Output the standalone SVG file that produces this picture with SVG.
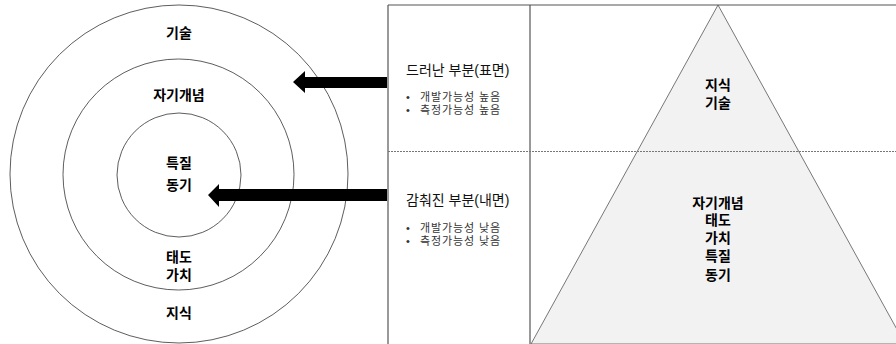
<svg xmlns="http://www.w3.org/2000/svg" width="896" height="344" viewBox="0 0 896 344">
<style>
.bg{fill:#ffffff}
.ring{fill:none;stroke:#333;stroke-width:0.8}
.lbl{font-family:"Liberation Sans","Noto Sans CJK KR",sans-serif;font-size:14px;font-weight:bold;fill:#000;text-anchor:middle;dominant-baseline:central}
.head{font-family:"Liberation Sans","Noto Sans CJK KR",sans-serif;font-size:14px;fill:#111;dominant-baseline:central}
.bul{font-family:"Liberation Sans","Noto Sans CJK KR",sans-serif;font-size:11px;letter-spacing:0.9px;fill:#333;dominant-baseline:central}
.frame{stroke:#555;stroke-width:1.2;fill:none}
.dash{stroke:#777;stroke-width:1;stroke-dasharray:2 1;fill:none}
.arrow{fill:#000}
</style>
<rect class="bg" x="0" y="0" width="896" height="344"/>
<g id="pyramid">
<polygon points="718,5 531,344 905,344" fill="#f2f2f2" stroke="#555" stroke-width="0.8"/>
<text class="lbl"><tspan x="718" y="85">지식</tspan><tspan x="718" y="103">기술</tspan></text>
<text class="lbl"><tspan x="718" y="203">자기개념</tspan><tspan x="718" y="220">태도</tspan><tspan x="718" y="238">가치</tspan><tspan x="718" y="256">특질</tspan><tspan x="718" y="275">동기</tspan></text>
</g>
<g id="panel">
<line class="frame" x1="388" y1="5" x2="896" y2="5" stroke="#888"/>
<line class="frame" x1="388" y1="5" x2="388" y2="344"/>
<line class="frame" x1="530" y1="5" x2="530" y2="344"/>
<line class="dash" x1="388" y1="151.5" x2="896" y2="151.5"/>
</g>
<g id="surface">
<text class="head" x="406" y="70">드러난 부분(표면)</text>
<text class="bul"><tspan x="406" y="97">•</tspan><tspan x="406" y="110">•</tspan></text>
<text class="bul"><tspan x="420" y="97">개발가능성 높음</tspan><tspan x="420" y="110">측정가능성 높음</tspan></text>
</g>
<g id="hidden">
<text class="head" x="406" y="200">감춰진 부분(내면)</text>
<text class="bul"><tspan x="406" y="228">•</tspan><tspan x="406" y="240.5">•</tspan></text>
<text class="bul"><tspan x="420" y="228">개발가능성 낮음</tspan><tspan x="420" y="240.5">측정가능성 낮음</tspan></text>
</g>
<g id="circles">
<circle class="ring" cx="179" cy="174" r="169"/>
<circle class="ring" cx="178.5" cy="174.5" r="115.5"/>
<circle class="ring" cx="179" cy="175" r="62"/>
</g>
<g id="ring-outer"><text class="lbl" x="179" y="33">기술</text><text class="lbl" x="179" y="313">지식</text></g>
<g id="ring-middle"><text class="lbl" x="179" y="95">자기개념</text><text class="lbl"><tspan x="179" y="257">태도</tspan><tspan x="179" y="275">가치</tspan></text></g>
<g id="ring-inner"><text class="lbl"><tspan x="179" y="163">특질</tspan><tspan x="179" y="185">동기</tspan></text></g>
<g id="connectors">
<polygon class="arrow" points="387,77 305,77 305,71 293,82 305,93 305,88 387,88"/>
<polygon class="arrow" points="387,189 219,189 219,184 208,195 219,207 219,201 387,201"/>
</g>
</svg>
